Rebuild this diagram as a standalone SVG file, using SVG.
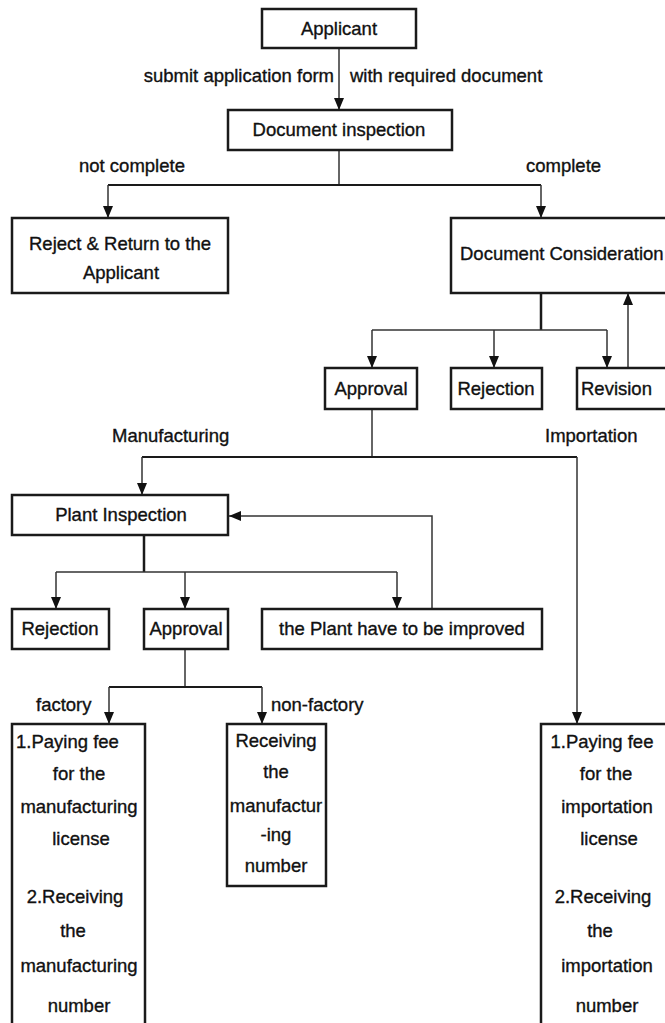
<svg xmlns="http://www.w3.org/2000/svg" width="665" height="1023" viewBox="0 0 665 1023">
<defs>
<marker id="ah" markerUnits="userSpaceOnUse" markerWidth="12" markerHeight="10" refX="12" refY="5" orient="auto">
<path d="M0,0 L12,5 L0,10 z" fill="#111"/>
</marker>
<style>
.box{fill:#fff;stroke:#1a1a1a;stroke-width:2.5}
.t{font-family:"Liberation Sans",Arial,sans-serif;font-size:18.5px;fill:#111;stroke:#111;stroke-width:0.35}
.m{text-anchor:middle}
.c{fill:none;stroke:#333;stroke-width:1.5}
.ck{fill:none;stroke:#1a1a1a;stroke-width:2.5}
.cm{fill:none;stroke:#1a1a1a;stroke-width:2}
</style>
</defs>
<rect width="665" height="1023" fill="#fff"/>

<g id="connectors">
<line class="c" x1="339" y1="48" x2="339" y2="110" marker-end="url(#ah)"/>
<line class="c" x1="339" y1="150" x2="339" y2="185"/>
<line class="cm" x1="108" y1="185" x2="541" y2="185"/>
<line class="c" x1="108" y1="185" x2="108" y2="218" marker-end="url(#ah)"/>
<line class="c" x1="541" y1="185" x2="541" y2="218" marker-end="url(#ah)"/>
<line class="ck" x1="541" y1="293" x2="541" y2="330"/>
<line class="c" x1="372" y1="330" x2="607" y2="330"/>
<line class="c" x1="372" y1="330" x2="372" y2="368" marker-end="url(#ah)"/>
<line class="c" x1="494" y1="330" x2="494" y2="368" marker-end="url(#ah)"/>
<line class="c" x1="607" y1="330" x2="607" y2="368" marker-end="url(#ah)"/>
<line class="c" x1="628" y1="368" x2="628" y2="293" marker-end="url(#ah)"/>
<line class="c" x1="372" y1="409" x2="372" y2="457"/>
<line class="cm" x1="142" y1="457" x2="577" y2="457"/>
<line class="c" x1="142" y1="457" x2="142" y2="495" marker-end="url(#ah)"/>
<line class="c" x1="577" y1="457" x2="577" y2="724" marker-end="url(#ah)"/>
<polyline class="c" points="432,609 432,516 229,516" marker-end="url(#ah)"/>
<line class="ck" x1="144" y1="535" x2="144" y2="572"/>
<line class="c" x1="56" y1="572" x2="397" y2="572"/>
<line class="c" x1="56" y1="572" x2="56" y2="609" marker-end="url(#ah)"/>
<line class="c" x1="185" y1="572" x2="185" y2="609" marker-end="url(#ah)"/>
<line class="c" x1="397" y1="572" x2="397" y2="609" marker-end="url(#ah)"/>
<line class="c" x1="185" y1="649" x2="185" y2="687"/>
<line class="cm" x1="109" y1="687" x2="262" y2="687"/>
<line class="c" x1="109" y1="687" x2="109" y2="724" marker-end="url(#ah)"/>
<line class="c" x1="262" y1="687" x2="262" y2="724" marker-end="url(#ah)"/>
</g>

<g id="labels">
<text class="t" x="334" y="82" text-anchor="end">submit application form</text>
<text class="t" x="350" y="82">with required document</text>
<text class="t" x="79" y="172">not complete</text>
<text class="t" x="526" y="172">complete</text>
<text class="t" x="112" y="442">Manufacturing</text>
<text class="t" x="545" y="442">Importation</text>
<text class="t" x="36" y="711">factory</text>
<text class="t" x="271" y="711">non-factory</text>
</g>

<g id="applicant">
<rect class="box" x="262" y="9" width="154" height="39"/>
<text class="t m" x="339" y="35">Applicant</text>
</g>
<g id="doc-inspection">
<rect class="box" x="228" y="110" width="224" height="40"/>
<text class="t m" x="339" y="136">Document inspection</text>
</g>
<g id="reject-return">
<rect class="box" x="12" y="218" width="216" height="75"/>
<text class="t m" x="120" y="250">Reject &amp; Return to the</text>
<text class="t m" x="121" y="279">Applicant</text>
</g>
<g id="doc-consideration">
<rect class="box" x="451" y="218" width="230" height="75"/>
<text class="t" x="460" y="260">Document Consideration</text>
</g>
<g id="approval-1">
<rect class="box" x="325" y="368" width="92" height="41"/>
<text class="t m" x="371" y="395">Approval</text>
</g>
<g id="rejection-1">
<rect class="box" x="451" y="368" width="91" height="41"/>
<text class="t m" x="496" y="395">Rejection</text>
</g>
<g id="revision">
<rect class="box" x="577" y="368" width="100" height="41"/>
<text class="t" x="581" y="395">Revision</text>
</g>
<g id="plant-inspection">
<rect class="box" x="12" y="495" width="216" height="40"/>
<text class="t m" x="121" y="521">Plant Inspection</text>
</g>
<g id="rejection-2">
<rect class="box" x="12" y="609" width="97" height="40"/>
<text class="t m" x="60" y="635">Rejection</text>
</g>
<g id="approval-2">
<rect class="box" x="144" y="609" width="84" height="40"/>
<text class="t m" x="186" y="635">Approval</text>
</g>
<g id="plant-improved">
<rect class="box" x="262" y="609" width="280" height="40"/>
<text class="t m" x="402" y="635">the Plant have to be improved</text>
</g>
<g id="factory-box">
<rect class="box" x="12" y="724" width="133" height="310"/>
<text class="t" x="16" y="748">1.Paying fee</text>
<text class="t m" x="79" y="780">for the</text>
<text class="t m" x="79" y="813">manufacturing</text>
<text class="t m" x="81" y="845">license</text>
<text class="t m" x="75" y="903">2.Receiving</text>
<text class="t m" x="73" y="937">the</text>
<text class="t m" x="79" y="972">manufacturing</text>
<text class="t m" x="79" y="1012">number</text>
</g>
<g id="non-factory-box">
<rect class="box" x="227" y="724" width="99" height="162"/>
<text class="t m" x="276" y="747">Receiving</text>
<text class="t m" x="276" y="778">the</text>
<text class="t m" x="276" y="812">manufactur</text>
<text class="t m" x="276" y="841">-ing</text>
<text class="t m" x="276" y="872">number</text>
</g>
<g id="importation-box">
<rect class="box" x="541" y="724" width="140" height="310"/>
<text class="t m" x="602" y="748">1.Paying fee</text>
<text class="t m" x="606" y="780">for the</text>
<text class="t m" x="607" y="813">importation</text>
<text class="t m" x="609" y="845">license</text>
<text class="t m" x="603" y="903">2.Receiving</text>
<text class="t m" x="600" y="937">the</text>
<text class="t m" x="607" y="972">importation</text>
<text class="t m" x="607" y="1012">number</text>
</g>
</svg>
